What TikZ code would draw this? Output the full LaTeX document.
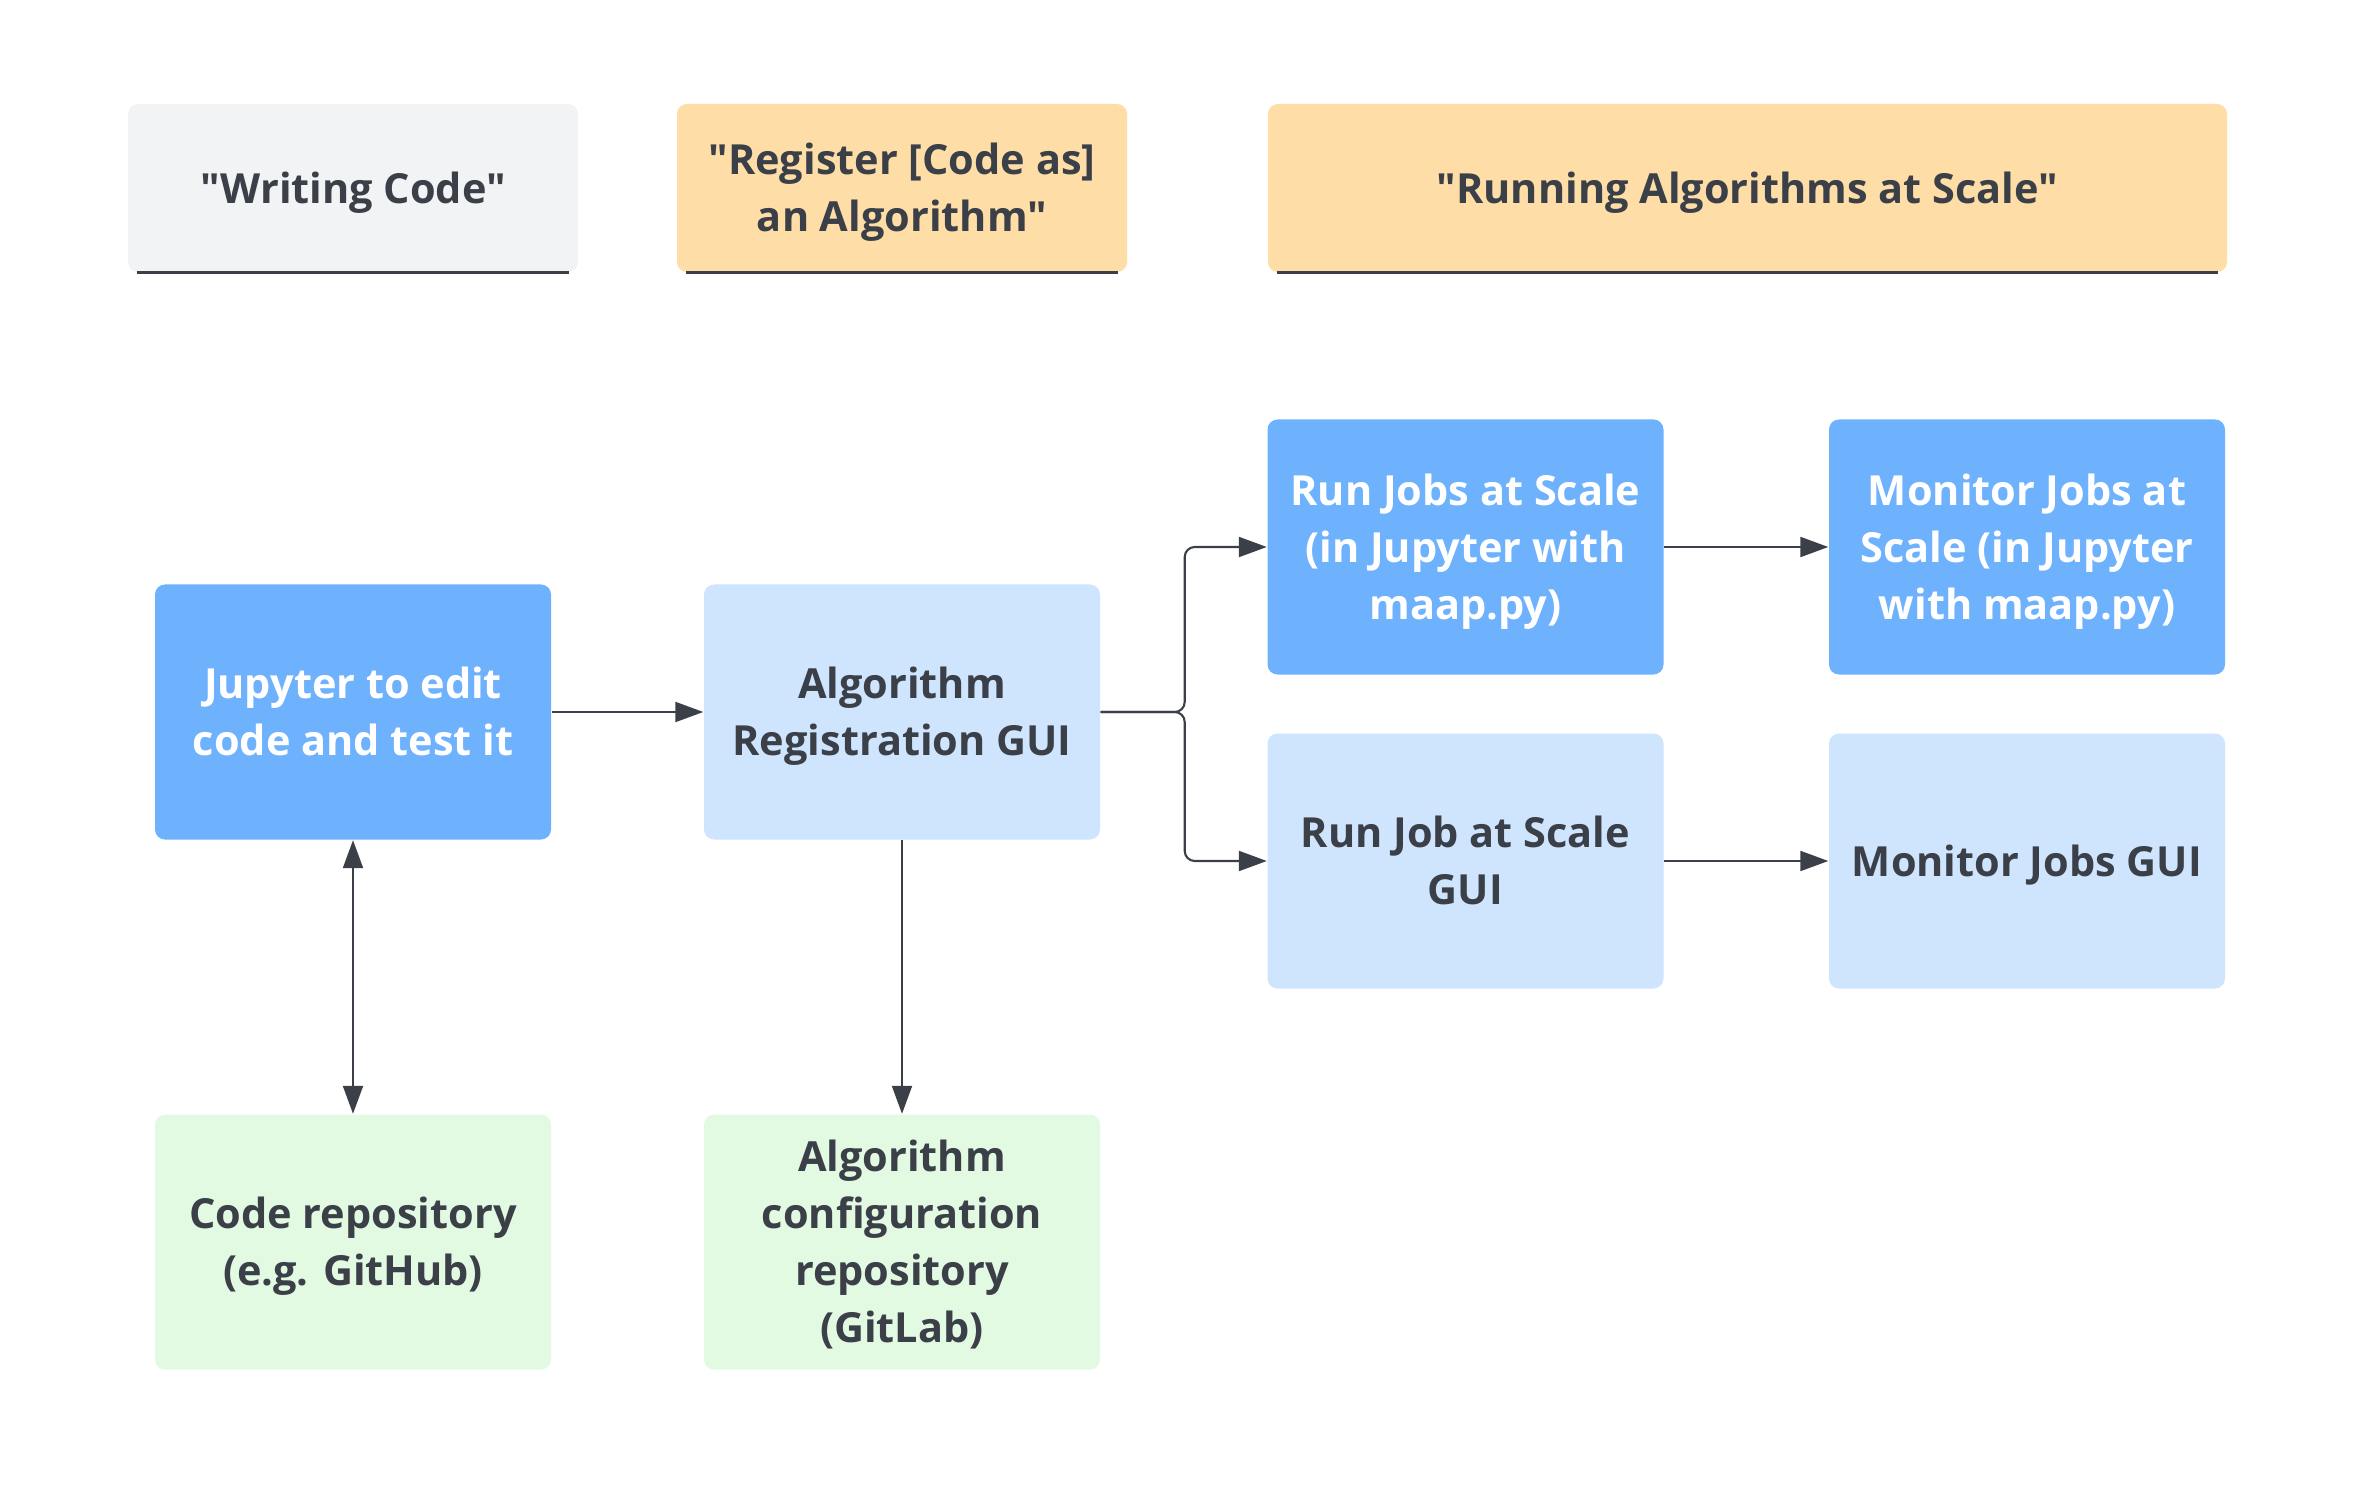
\documentclass[tikz,border=0pt]{standalone}
\usepackage{fontspec}
\setmainfont{Open Sans}[Ligatures=TeXOff]
\usepackage{xcolor}
\usepackage{tikz}
\usetikzlibrary{arrows.meta,positioning,calc}
\definecolor{textdark}{HTML}{3A3F48}
\definecolor{hdrgrey}{HTML}{F2F3F5}
\definecolor{hdrorange}{HTML}{FEDDA6}
\definecolor{darkblue}{HTML}{6EB1FC}
\definecolor{lightblue}{HTML}{CFE4FD}
\definecolor{lightgreen}{HTML}{E2F9E2}
% struts: top of first line, bottom of last line
\newcommand{\bs}{\rule{0pt}{13.6pt}}
\newcommand{\be}{\rule[-4.9pt]{0pt}{4.9pt}}

\begin{document}
\begin{tikzpicture}[myarrow/.style={-{Triangle[length=0.28cm,width=0.2cm]},draw=textdark,line width=0.6pt},
	box/.style={rectangle,rounded corners=0.1cm,minimum width=3.96cm,minimum height=2.55cm,align=center,
		inner ysep=1pt,font=\bfseries\fontsize{11.8}{16.2}\selectfont,text=textdark},
	header/.style={box,minimum height=1.68cm}]
	\useasboundingbox (0,0) rectangle (23.59,-14.96);
	% headers
	\node[header,fill=hdrgrey,minimum width=4.5cm] (hwrite) at (3.53,-1.88) {\bs"Writing Code"\be};
	\node[header,fill=hdrorange,minimum width=4.5cm] (hreg) at (9.02,-1.88) {\bs"Register [Code as]\\an Algorithm"\be};
	\node[header,fill=hdrorange,minimum width=9.59cm] (hrun) at (17.475,-1.88) {\bs"Running Algorithms at Scale"\be};
	\foreach \h in {hwrite,hreg,hrun}
		\draw[textdark,line width=0.9pt] ($(\h.south west)+(0.1,0)$) -- ($(\h.south east)+(-0.1,0)$);
	% boxes
	\node[box,fill=darkblue,text=white] (jupyter) at (3.53,-7.12) {\bs Jupyter to edit\\code and test it\be};
	\node[box,fill=lightblue] (algreg) at (9.02,-7.12) {\bs Algorithm\\Registration GUI\be};
	\node[box,fill=lightgreen] (coderepo) at (3.53,-12.42) {\bs Code repository\\(e.g. GitHub)\be};
	\node[box,fill=lightgreen] (algconf) at (9.02,-12.42) {\bs Algorithm\\configuration\\repository\\(GitLab)\be};
	\node[box,fill=darkblue,text=white] (runjobs) at (14.655,-5.47) {\bs Run Jobs at Scale\\(in Jupyter with\\maap.py)\be};
	\node[box,fill=darkblue,text=white] (monjobs) at (20.27,-5.47) {\bs Monitor Jobs at\\Scale (in Jupyter\\with maap.py)\be};
	\node[box,fill=lightblue] (runjobgui) at (14.655,-8.61) {\bs Run Job at Scale\\GUI\be};
	\node[box,fill=lightblue] (mongui) at (20.27,-8.61) {\bs Monitor Jobs GUI\be};
	% connectors
	\draw[myarrow] (jupyter.east) -- (algreg.west);
	\draw[myarrow,{Triangle[length=0.28cm,width=0.2cm]}-{Triangle[length=0.28cm,width=0.2cm]}] (jupyter.south) -- (coderepo.north);
	\draw[myarrow] (algreg.south) -- (algconf.north);
	\draw[myarrow,rounded corners=0.1cm] (algreg.east) -- ++(0.84,0) |- (runjobs.west);
	\draw[myarrow,rounded corners=0.1cm] (algreg.east) -- ++(0.84,0) |- (runjobgui.west);
	\draw[myarrow] (runjobs.east) -- (monjobs.west);
	\draw[myarrow] (runjobgui.east) -- (mongui.west);
\end{tikzpicture}
\end{document}
